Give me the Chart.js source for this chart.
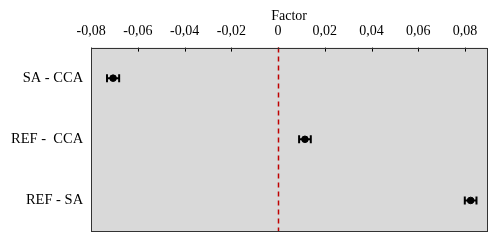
<!DOCTYPE html>
<html>
<head>
<meta charset="utf-8">
<script src="https://cdn.jsdelivr.net/npm/chart.js@4"></script>
<style>
  html, body { margin: 0; padding: 0; background: #fff; }
  #wrap { width: 503px; height: 251px; }
</style>
</head>
<body>
<div id="wrap"><canvas id="factorChart" width="503" height="251"></canvas></div>
<script>
// data
var categories = ['SA - CCA', 'REF -  CCA', 'REF - SA'];
var factorValues = [-0.0706, 0.0115, 0.0824];
var errorLow = [-0.0732, 0.0090, 0.0799];
var errorHigh = [-0.0680, 0.0140, 0.0849];
var tickValues = [-0.08, -0.06, -0.04, -0.02, 0, 0.02, 0.04, 0.06, 0.08];

var points = [];
for (var i = 0; i < categories.length; i++) {
    points.push({ x: factorValues[i], y: categories[i] });
}

function formatTick(v) {
    if (Math.abs(v) < 1e-9) return '0';
    return v.toFixed(2).replace('.', ',');
}

// gray plot area, frame, inward ticks, zero line, error bars
var plotExtras = {
    id: 'plotExtras',
    beforeDatasetsDraw: function (chart) {
        var ctx = chart.ctx, a = chart.chartArea;
        var xs = chart.scales.x, ys = chart.scales.y;
        ctx.save();
        ctx.fillStyle = '#d9d9d9';
        ctx.fillRect(a.left, a.top, a.right - a.left, a.bottom - a.top);

        // tick marks pointing into the plot
        ctx.strokeStyle = '#000';
        ctx.lineWidth = 1;
        tickValues.forEach(function (v) {
            var px = Math.round(xs.getPixelForValue(v)) + 0.5;
            ctx.beginPath();
            ctx.moveTo(px, a.top);
            ctx.lineTo(px, a.top + 4);
            ctx.stroke();
        });

        // dashed zero line
        var zx = Math.round(xs.getPixelForValue(0)) + 0.5;
        ctx.strokeStyle = '#c00000';
        ctx.lineWidth = 1.5;
        ctx.setLineDash([5, 4]);
        ctx.beginPath();
        ctx.moveTo(zx, a.top);
        ctx.lineTo(zx, a.bottom);
        ctx.stroke();
        ctx.setLineDash([]);

        // error bars
        ctx.strokeStyle = '#000';
        ctx.lineWidth = 2;
        for (var i = 0; i < categories.length; i++) {
            var py = ys.getPixelForValue(i);
            var x1 = xs.getPixelForValue(errorLow[i]);
            var x2 = xs.getPixelForValue(errorHigh[i]);
            ctx.beginPath();
            ctx.moveTo(x1, py);
            ctx.lineTo(x2, py);
            ctx.moveTo(x1, py - 4);
            ctx.lineTo(x1, py + 4);
            ctx.moveTo(x2, py - 4);
            ctx.lineTo(x2, py + 4);
            ctx.stroke();
        }
        ctx.restore();
    },
    afterDraw: function (chart) {
        var ctx = chart.ctx, a = chart.chartArea;
        ctx.save();
        ctx.strokeStyle = '#333';
        ctx.lineWidth = 1;
        ctx.strokeRect(Math.round(a.left) + 0.5, Math.round(a.top) + 0.5,
            Math.round(a.right - a.left), Math.round(a.bottom - a.top));
        ctx.restore();
    }
};

var ctx = document.getElementById('factorChart').getContext('2d');
var myChart = new Chart(ctx, {
    type: 'scatter',
    data: {
        datasets: [{
            label: 'Factor',
            data: points,
            backgroundColor: '#000',
            borderColor: '#000',
            pointRadius: 3.3,
            pointHoverRadius: 3.3
        }]
    },
    options: {
        responsive: false,
        animation: false,
        layout: { padding: { top: 2, right: 16, bottom: 20, left: 3 } },
        plugins: {
            legend: { display: false },
            tooltip: { enabled: false }
        },
        scales: {
            x: {
                type: 'linear',
                position: 'top',
                min: -0.08,
                max: 0.0894,
                afterBuildTicks: function (scale) {
                    scale.ticks = tickValues.map(function (v) { return { value: v }; });
                },
                grid: { display: false, drawTicks: false },
                border: { display: false },
                ticks: {
                    color: '#000',
                    padding: 8,
                    maxRotation: 0,
                    autoSkip: false,
                    font: { family: 'Liberation Serif', size: 14 },
                    callback: function (v) { return formatTick(v); }
                },
                title: {
                    display: true,
                    text: 'Factor',
                    color: '#000',
                    padding: { top: 6, bottom: -10 },
                    font: { family: 'Liberation Serif', size: 14 }
                }
            },
            y: {
                type: 'category',
                labels: categories,
                offset: true,
                grid: { display: false, drawTicks: false },
                border: { display: false },
                ticks: {
                    color: '#000',
                    padding: 8,
                    font: { family: 'Liberation Serif', size: 14.5 }
                }
            }
        }
    },
    plugins: [plotExtras]
});
</script>
</body>
</html>
